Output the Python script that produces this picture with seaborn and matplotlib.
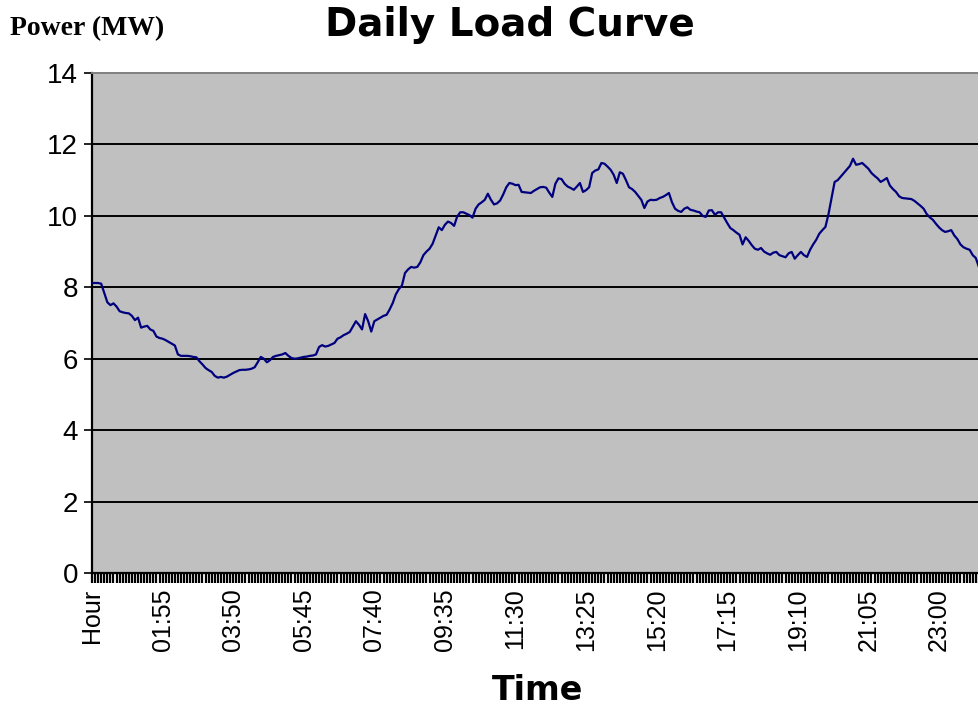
import numpy as np
import pandas as pd
import matplotlib
matplotlib.use("Agg")
import matplotlib.pyplot as plt
import seaborn as sns

# ---- data (5-minute load readings, MW) ----
load_mw = [
    8.12, 8.12, 8.12, 8.10, 7.84, 7.58, 7.50, 7.55, 7.46, 7.33,
    7.30, 7.28, 7.27, 7.20, 7.08, 7.15, 6.87, 6.90, 6.92, 6.82,
    6.78, 6.62, 6.58, 6.56, 6.52, 6.47, 6.42, 6.37, 6.12, 6.08,
    6.08, 6.08, 6.07, 6.05, 6.04, 5.93, 5.84, 5.74, 5.68, 5.63,
    5.52, 5.47, 5.49, 5.47, 5.50, 5.55, 5.60, 5.64, 5.68, 5.69,
    5.69, 5.70, 5.72, 5.76, 5.90, 6.05, 6.00, 5.90, 5.96, 6.05,
    6.08, 6.10, 6.12, 6.16, 6.08, 6.02, 6.00, 6.01, 6.03, 6.05,
    6.06, 6.08, 6.09, 6.12, 6.33, 6.38, 6.34, 6.36, 6.40, 6.44,
    6.56, 6.60, 6.66, 6.70, 6.75, 6.90, 7.05, 6.95, 6.82, 7.25,
    7.05, 6.76, 7.05, 7.10, 7.15, 7.20, 7.23, 7.38, 7.56, 7.80,
    7.95, 8.05, 8.40, 8.50, 8.57, 8.55, 8.57, 8.70, 8.90, 9.00,
    9.08, 9.22, 9.45, 9.68, 9.60, 9.75, 9.84, 9.80, 9.72, 9.98,
    10.10, 10.10, 10.06, 10.02, 9.95, 10.20, 10.32, 10.38, 10.45, 10.62,
    10.45, 10.32, 10.35, 10.43, 10.60, 10.80, 10.92, 10.90, 10.86, 10.87,
    10.67, 10.66, 10.65, 10.64, 10.70, 10.75, 10.80, 10.81, 10.79, 10.65,
    10.53, 10.90, 11.05, 11.03, 10.90, 10.82, 10.78, 10.73, 10.82, 10.92,
    10.67, 10.72, 10.80, 11.20, 11.27, 11.30, 11.48, 11.46, 11.38, 11.29,
    11.15, 10.92, 11.22, 11.18, 11.00, 10.80, 10.75, 10.67, 10.56, 10.45,
    10.22, 10.40, 10.45, 10.44, 10.45, 10.50, 10.53, 10.58, 10.64, 10.38,
    10.20, 10.14, 10.11, 10.20, 10.24, 10.17, 10.15, 10.12, 10.10, 10.00,
    9.97, 10.15, 10.16, 10.03, 10.10, 10.10, 9.95, 9.80, 9.66, 9.60,
    9.53, 9.47, 9.20, 9.40, 9.30, 9.18, 9.08, 9.05, 9.10, 9.00,
    8.95, 8.91, 8.97, 8.99, 8.90, 8.87, 8.84, 8.95, 8.99, 8.80,
    8.90, 8.99, 8.90, 8.85, 9.05, 9.20, 9.33, 9.50, 9.60, 9.69,
    10.05, 10.50, 10.95, 11.00, 11.10, 11.20, 11.30, 11.40, 11.60, 11.43,
    11.45, 11.48, 11.40, 11.32, 11.20, 11.12, 11.05, 10.95, 11.00, 11.06,
    10.85, 10.75, 10.67, 10.55, 10.50, 10.49, 10.48, 10.47, 10.42, 10.35,
    10.28, 10.20, 10.05, 9.96, 9.89, 9.78, 9.68, 9.60, 9.55, 9.57,
    9.60, 9.45, 9.35, 9.20, 9.12, 9.08, 9.05, 8.90, 8.82, 8.57,
]

# category labels: header cell "Hour" followed by 5-minute time stamps
categories = ["Hour"] + [f"{(5 * i) // 60 % 24:02d}:{(5 * i) % 60:02d}"
                         for i in range(1, len(load_mw))]
label_step = 23
y_ticks = [0, 2, 4, 6, 8, 10, 12, 14]

title_text = "Daily Load Curve"
y_title = "Power (MW)"
x_title = "Time"

# ---- drawing ----
sns.set_style("white")
plt.rcParams["font.family"] = ["Liberation Sans", "DejaVu Sans"]
plt.rcParams["text.color"] = "black"
plt.rcParams["xtick.color"] = "black"
plt.rcParams["ytick.color"] = "black"
plt.rcParams["xtick.labelcolor"] = "black"
plt.rcParams["ytick.labelcolor"] = "black"

W, H = 979, 705
fig = plt.figure(figsize=(W / 100, H / 100), dpi=100)
fig.patch.set_facecolor("white")

left_px, right_px, top_px, bottom_px = 92, 985, 73, 573
ax = fig.add_axes([left_px / W, 1 - bottom_px / H,
                   (right_px - left_px) / W, (bottom_px - top_px) / H])
ax.set_facecolor("#C0C0C0")

df = pd.DataFrame({"idx": np.arange(len(load_mw)), "load": load_mw})
sns.lineplot(data=df, x="idx", y="load", ax=ax, color="#00007F",
             linewidth=1.6, zorder=3)

ax.set_xlim(0, 290.9)
ax.set_ylim(0, 14)

# y axis
ax.set_yticks(y_ticks)
ax.set_yticklabels([str(v) for v in y_ticks], fontsize=20, color="black")
ax.tick_params(axis="y", direction="out", length=6, width=1.2,
               color="black", pad=4, left=True)
for v in y_ticks[1:-1]:
    ax.axhline(v, color="black", linewidth=1.4, zorder=2)

# x axis: one tick per category, a label every 23rd
major_pos = list(range(0, len(categories), label_step))
ax.set_xticks(major_pos)
ax.set_xticklabels([categories[i] for i in major_pos], rotation=90,
                   fontsize=18, va="top", ha="center", color="black")
ax.set_xticks(np.arange(len(categories) + 2), minor=True)
ax.tick_params(axis="x", which="both", direction="out", length=7,
               width=1.6, color="black", bottom=True)
ax.tick_params(axis="x", which="major", pad=4)

ax.set_xlabel("")
ax.set_ylabel("")

for side in ["left", "bottom"]:
    ax.spines[side].set_color("black")
    ax.spines[side].set_linewidth(1.6)
ax.spines["top"].set_color("#808080")
ax.spines["top"].set_linewidth(1.4)
ax.spines["right"].set_color("#808080")

# titles
fig.text(510 / W, 1 - 25 / H, title_text, ha="center", va="center",
         fontsize=28, fontweight="bold", family="DejaVu Sans", color="black")
fig.text(10 / W, 1 - 29 / H, y_title, ha="left", va="center",
         fontsize=20, fontweight="bold", family="Liberation Serif",
         color="black")
fig.text(538 / W, 1 - 690 / H, x_title, ha="center", va="center",
         fontsize=24, fontweight="bold", family="DejaVu Sans", color="black")

fig.savefig("out.png", dpi=100)
